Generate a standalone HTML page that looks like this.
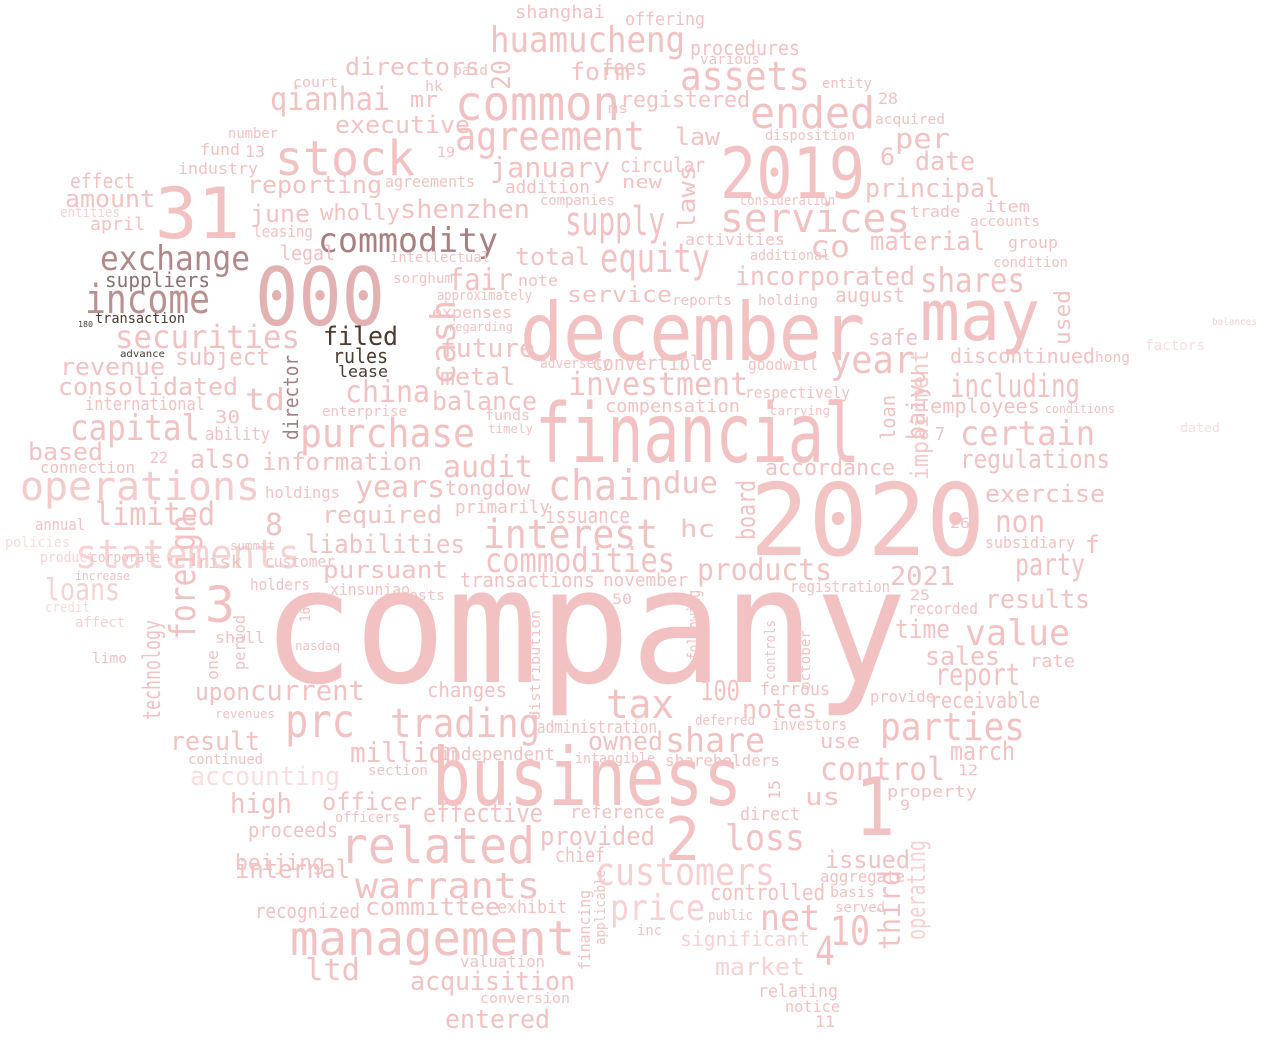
<!DOCTYPE html>
<html><head><meta charset="utf-8"><title>Word cloud</title>
<style>
html,body{margin:0;padding:0;background:#fff;}
svg{display:block;}
text{font-family:"DejaVu Sans Mono","Liberation Mono",monospace;}
</style></head>
<body>
<svg id="cloud" width="1280" height="1042" viewBox="0 0 1280 1042" xmlns="http://www.w3.org/2000/svg">
<rect width="1280" height="1042" fill="#fff"/>
</svg>
<script>
// [word, x, baselineY, fontSize, color, rotation, width]
const words = [
["company",262,682,160,"#f2c2c2",0,645],
["2020",750,555,100,"#f2c4c4",0,235],
["financial",535,462,82,"#f2c2c2",0,325],
["december",520,360,80,"#f2c2c2",0,345],
["business",432,805,80,"#f2c2c2",0,310],
["000",255,325,80,"#e2b2b2",0,130],
["31",155,238,70,"#f2c2c2",0,85],
["2019",720,198,70,"#f2c2c2",0,145],
["may",920,340,70,"#f2c2c2",0,120],
["1",855,835,80,"#f2c2c2",0,40],
["2",665,860,60,"#f2c2c2",0,35],
["3",205,622,50,"#f2c2c2",0,30],
["4",815,965,40,"#f2c2c2",0,20],
["10",830,945,40,"#f2c2c2",0,40],
["common",455,120,48,"#f2c2c2",0,165],
["stock",275,175,48,"#f2c2c2",0,140],
["related",340,863,50,"#f2c2c2",0,195],
["management",290,955,48,"#f2c2c2",0,285],
["operations",20,500,40,"#f4caca",0,240],
["statements",75,568,40,"#f6d2d2",0,225],
["agreement",455,150,40,"#f2c2c2",0,190],
["supply",565,235,40,"#f2c2c2",0,100],
["services",720,232,40,"#f2c2c2",0,190],
["equity",600,272,40,"#f2c2c2",0,110],
["ended",750,128,44,"#f2c2c2",0,125],
["assets",680,90,40,"#f2c2c2",0,130],
["huamucheng",490,52,36,"#f2c2c2",0,195],
["purchase",300,447,40,"#f2c2c2",0,175],
["chain",548,500,42,"#f2c2c2",0,115],
["interest",483,548,40,"#f2c2c2",0,175],
["commodities",485,572,34,"#f2c2c2",0,190],
["income",85,313,40,"#b89090",0,125],
["commodity",318,252,34,"#a88080",0,180],
["exchange",100,270,34,"#b08888",0,150],
["securities",115,348,32,"#f2c2c2",0,185],
["capital",70,440,36,"#f2c2c2",0,130],
["customers",595,885,38,"#f6d0d0",0,180],
["warrants",355,898,36,"#f2c2c2",0,185],
["prc",285,737,46,"#f2c2c2",0,70],
["trading",390,737,40,"#f2c2c2",0,150],
["tax",606,718,40,"#f2c2c2",0,68],
["investment",568,395,32,"#f2c2c2",0,180],
["shares",920,292,34,"#f2c2c2",0,105],
["including",950,397,32,"#f2c2c2",0,130],
["certain",960,445,34,"#f2c2c2",0,135],
["year",830,373,38,"#f2c2c2",0,85],
["value",965,645,36,"#f2c2c2",0,105],
["parties",880,740,38,"#f2c2c2",0,145],
["control",820,780,32,"#f2c2c2",0,125],
["loss",725,850,36,"#f2c2c2",0,80],
["net",760,930,36,"#f2c2c2",0,60],
["price",610,920,36,"#f6d2d2",0,95],
["acquisition",410,990,26,"#f2c2c2",0,165],
["entered",445,1028,26,"#f2c2c2",0,105],
["limited",95,525,32,"#f2c2c2",0,120],
["loans",45,600,30,"#f6d2d2",0,75],
["qianhai",270,110,32,"#f2c2c2",0,120],
["directors",345,75,24,"#f2c2c2",0,135],
["executive",335,133,24,"#f2c2c2",0,135],
["january",490,177,28,"#f2c2c2",0,120],
["shenzhen",400,218,26,"#f2c2c2",0,130],
["foreign",195,640,36,"#f2c2c2",-90,125],
["technology",160,720,24,"#f2c2c2",-90,100],
["cash",455,385,34,"#f2c2c2",-90,85],
["director",298,440,20,"#a08080",-90,85],
["third",900,950,30,"#f2c2c2",-90,80],
["operating",925,940,26,"#f6d2d2",-90,100],
["board",755,540,26,"#f2c2c2",-90,60],
["impairment",928,480,24,"#f4caca",-90,130],
["baiyu",925,440,26,"#f2c2c2",-90,70],
["used",1070,345,22,"#f2c2c2",-90,55],
["laws",695,230,24,"#f2c2c2",-90,65],
["million",350,762,28,"#f2c2c2",0,110],
["accounting",190,785,26,"#f8dede",0,150],
["products",697,580,30,"#f2c2c2",0,135],
["audit",443,477,30,"#f2c2c2",0,90],
["years",355,497,30,"#f2c2c2",0,90],
["tongdow",445,495,20,"#f2c2c2",0,85],
["due",663,493,30,"#f2c2c2",0,55],
["china",345,402,30,"#f2c2c2",0,85],
["balance",432,410,26,"#f2c2c2",0,105],
["fair",448,290,30,"#f2c2c2",0,65],
["total",515,265,24,"#f2c2c2",0,75],
["future",440,357,26,"#f2c2c2",0,95],
["metal",440,385,24,"#f2c2c2",0,75],
["information",262,470,24,"#f2c2c2",0,160],
["reporting",247,193,24,"#f2c2c2",0,135],
["june",250,222,24,"#f2c2c2",0,60],
["wholly",320,220,22,"#f2c2c2",0,80],
["revenue",60,375,24,"#f2c2c2",0,105],
["consolidated",58,395,24,"#f2c2c2",0,180],
["amount",65,207,24,"#f2c2c2",0,90],
["effect",70,188,20,"#f2c2c2",0,65],
["april",90,230,18,"#f2c2c2",0,55],
["based",28,460,24,"#f2c2c2",0,75],
["also",190,468,26,"#f2c2c2",0,60],
["td",245,410,30,"#f2c2c2",0,40],
["subject",175,365,24,"#f2c2c2",0,95],
["filed",323,345,26,"#4b3a30",0,75],
["rules",333,363,20,"#4b3a30",0,55],
["lease",338,377,16,"#4b3a30",0,50],
["suppliers",105,287,20,"#8a7070",0,105],
["transaction",95,323,14,"#4b3a30",0,90],
["liabilities",305,553,26,"#f2c2c2",0,160],
["pursuant",323,578,24,"#f2c2c2",0,125],
["required",322,523,24,"#f2c2c2",0,120],
["8",265,535,30,"#f2c2c2",0,18],
["internal",235,878,26,"#f2c2c2",0,115],
["recognized",255,918,20,"#f2c2c2",0,105],
["proceeds",248,837,20,"#f2c2c2",0,90],
["high",230,813,28,"#f2c2c2",0,62],
["officer",322,810,24,"#f2c2c2",0,100],
["committee",365,915,24,"#f2c2c2",0,135],
["ltd",305,980,30,"#f2c2c2",0,55],
["effective",423,822,26,"#f2c2c2",0,120],
["provided",540,845,26,"#f2c2c2",0,115],
["share",665,752,34,"#f2c2c2",0,100],
["shareholders",665,766,16,"#f2c2c2",0,115],
["owned",588,750,26,"#f2c2c2",0,75],
["100",700,700,28,"#f2c2c2",0,40],
["notes",742,718,26,"#f2c2c2",0,75],
["current",250,700,28,"#f2c2c2",0,115],
["upon",195,700,24,"#f2c2c2",0,55],
["result",170,750,26,"#f2c2c2",0,90],
["report",935,685,30,"#f2c2c2",0,85],
["sales",925,665,26,"#f2c2c2",0,75],
["time",895,638,26,"#f2c2c2",0,55],
["results",985,608,26,"#f2c2c2",0,105],
["party",1015,575,30,"#f2c2c2",0,70],
["2021",890,585,26,"#f2c2c2",0,65],
["exercise",985,502,24,"#f2c2c2",0,120],
["regulations",960,468,26,"#f2c2c2",0,150],
["non",995,532,30,"#f2c2c2",0,50],
["march",950,760,26,"#f2c2c2",0,65],
["receivable",930,708,22,"#f2c2c2",0,110],
["issued",825,868,24,"#f2c2c2",0,85],
["incorporated",735,285,26,"#f2c2c2",0,180],
["co",810,257,30,"#f2c2c2",0,40],
["material",870,250,26,"#f2c2c2",0,115],
["principal",865,197,26,"#f2c2c2",0,135],
["date",915,170,26,"#f2c2c2",0,60],
["per",895,148,28,"#f2c2c2",0,55],
["6",880,165,24,"#f2c2c2",0,15],
["law",675,145,24,"#f2c2c2",0,45],
["registered",620,107,22,"#f2c2c2",0,130],
["procedures",690,55,20,"#f2c2c2",0,110],
["form",570,80,24,"#f2c2c2",0,60],
["fees",602,75,22,"#f2c2c2",0,45],
["mr",410,107,22,"#f2c2c2",0,28],
["shanghai",515,18,18,"#f2c2c2",0,90],
["offering",625,25,18,"#f2c2c2",0,80],
["circular",620,172,20,"#f2c2c2",0,85],
["addition",505,193,18,"#f2c2c2",0,85],
["service",567,302,22,"#f2c2c2",0,105],
["convertible",592,370,20,"#f2c2c2",0,120],
["compensation",605,412,18,"#f2c2c2",0,135],
["accordance",765,475,22,"#f2c2c2",0,130],
["discontinued",950,363,20,"#f2c2c2",0,145],
["employees",930,413,20,"#f2c2c2",0,110],
["august",835,302,20,"#f2c2c2",0,70],
["safe",868,345,22,"#f2c2c2",0,50],
["hc",680,537,24,"#f2c2c2",0,35],
["issuance",545,523,22,"#f2c2c2",0,85],
["primarily",455,513,18,"#f2c2c2",0,95],
["transactions",460,587,20,"#f2c2c2",0,135],
["november",603,586,18,"#f2c2c2",0,85],
["changes",427,697,20,"#f2c2c2",0,80],
["independent",440,760,18,"#f2c2c2",0,115],
["administration",537,733,18,"#f2c2c2",0,120],
["market",715,975,24,"#f6d2d2",0,90],
["significant",680,946,20,"#f6d2d2",0,130],
["controlled",710,900,22,"#f2c2c2",0,115],
["chief",555,862,20,"#f2c2c2",0,50],
["reference",570,818,18,"#f2c2c2",0,95],
["valuation",460,967,16,"#f2c2c2",0,85],
["conversion",480,1003,14,"#f2c2c2",0,90],
["exhibit",497,913,18,"#f2c2c2",0,70],
["subsidiary",985,548,16,"#f2c2c2",0,90],
["customer",265,567,16,"#f2c2c2",0,70],
["risk",197,568,18,"#f2c2c2",0,45],
["holdings",265,498,16,"#f2c2c2",0,75],
["ability",205,440,18,"#f2c2c2",0,65],
["legal",280,260,20,"#f2c2c2",0,55],
["international",85,410,18,"#f2c2c2",0,120],
["connection",40,473,16,"#f2c2c2",0,95],
["annual",35,530,16,"#f2c2c2",0,50],
["policies",5,547,14,"#f8dede",0,65],
["30",215,423,18,"#f2c2c2",0,25],
["22",150,463,16,"#f2c2c2",0,18],
["13",245,157,16,"#f2c2c2",0,20],
["fund",200,155,16,"#f2c2c2",0,40],
["industry",178,174,16,"#f2c2c2",0,80],
["leasing",253,237,16,"#f2c2c2",0,60],
["entities",60,217,14,"#f6d2d2",0,60],
["28",878,104,16,"#f2c2c2",0,20],
["holders",250,590,16,"#f2c2c2",0,60],
["xinsuniao",330,595,16,"#f2c2c2",0,80],
["costs",400,600,14,"#f2c2c2",0,45],
["registration",790,592,16,"#f2c2c2",0,100],
["recorded",908,614,16,"#f2c2c2",0,70],
["rate",1030,667,18,"#f2c2c2",0,45],
["provide",870,702,16,"#f2c2c2",0,65],
["investors",772,730,16,"#f2c2c2",0,75],
["use",820,748,20,"#f2c2c2",0,40],
["us",805,805,24,"#f2c2c2",0,35],
["property",887,797,16,"#f2c2c2",0,90],
["direct",740,820,18,"#f2c2c2",0,60],
["aggregate",820,882,16,"#f2c2c2",0,85],
["basis",830,897,14,"#f2c2c2",0,45],
["served",835,912,14,"#f2c2c2",0,50],
["relating",758,997,18,"#f2c2c2",0,80],
["notice",785,1012,16,"#f2c2c2",0,55],
["11",815,1027,16,"#f2c2c2",0,20],
["accounts",970,226,14,"#f2c2c2",0,70],
["item",985,212,16,"#f2c2c2",0,45],
["group",1008,248,16,"#f2c2c2",0,50],
["condition",993,267,14,"#f2c2c2",0,75],
["trade",910,217,16,"#f2c2c2",0,50],
["hong",1095,362,14,"#f2c2c2",0,35],
["factors",1145,350,14,"#f8dede",0,60],
["balances",1212,325,10,"#f4d2d2",0,45],
["dated",1180,432,12,"#f8dede",0,40],
["conditions",1045,413,12,"#f2c2c2",0,70],
["loan",895,440,20,"#f2c2c2",-90,45],
["goodwill",748,370,16,"#f2c2c2",0,70],
["respectively",745,398,16,"#f2c2c2",0,105],
["carrying",770,415,12,"#f2c2c2",0,60],
["holding",758,305,14,"#f2c2c2",0,60],
["additional",750,260,14,"#f2c2c2",0,80],
["activities",685,245,16,"#f2c2c2",0,100],
["reports",672,305,14,"#f2c2c2",0,60],
["note",518,286,16,"#f2c2c2",0,40],
["expenses",432,318,16,"#f2c2c2",0,80],
["approximately",437,300,14,"#f2c2c2",0,95],
["sorghum",393,283,14,"#f2c2c2",0,60],
["intellectual",390,262,14,"#f2c2c2",0,100],
["regarding",448,331,12,"#f2c2c2",0,65],
["advance",120,357,10,"#4b3a30",0,45],
["180",78,327,8,"#4b3a30",0,15],
["enterprise",322,416,14,"#f2c2c2",0,85],
["adversely",540,368,14,"#f2c2c2",0,70],
["funds",485,420,14,"#f2c2c2",0,45],
["timely",488,433,12,"#f2c2c2",0,45],
["summit",230,550,12,"#f2c2c2",0,45],
["corporate",90,562,14,"#f2c2c2",0,70],
["product",40,562,14,"#f6d2d2",0,55],
["increase",75,580,12,"#f2c2c2",0,55],
["credit",45,612,14,"#f8dede",0,45],
["affect",75,627,14,"#f6d2d2",0,50],
["limo",92,663,14,"#f2c2c2",0,35],
["shall",215,643,16,"#f2c2c2",0,50],
["one",218,680,16,"#f2c2c2",-90,30],
["period",245,670,16,"#f2c2c2",-90,55],
["nasdaq",295,650,12,"#f2c2c2",0,45],
["16",310,622,14,"#f2c2c2",-90,15],
["revenues",215,718,12,"#f2c2c2",0,60],
["continued",188,764,14,"#f2c2c2",0,75],
["section",368,775,14,"#f2c2c2",0,60],
["intangible",575,763,14,"#f2c2c2",0,80],
["deferred",695,725,14,"#f2c2c2",0,60],
["following",700,660,18,"#f2c2c2",-90,70],
["controls",775,680,14,"#f2c2c2",-90,60],
["october",810,690,14,"#f2c2c2",-90,60],
["ferrous",760,695,18,"#f2c2c2",0,70],
["distribution",540,720,14,"#f2c2c2",-90,110],
["officers",335,822,14,"#f2c2c2",0,65],
["beijing",235,870,22,"#f2c2c2",0,90],
["financing",590,970,16,"#f2c2c2",-90,80],
["applicable",605,945,14,"#f2c2c2",-90,75],
["inc",637,935,14,"#f2c2c2",0,25],
["public",708,920,14,"#f2c2c2",0,45],
["15",780,800,16,"#f2c2c2",-90,20],
["12",958,775,14,"#f2c2c2",0,20],
["9",900,810,14,"#f2c2c2",0,10],
["50",612,604,14,"#f2c2c2",0,20],
["25",910,600,14,"#f2c2c2",0,20],
["f",1085,553,24,"#f2c2c2",0,15],
["7",935,440,18,"#f2c2c2",0,10],
["26",950,528,14,"#f2c2c2",0,20],
["20",510,90,26,"#f2c2c2",-90,30],
["19",437,157,14,"#f2c2c2",0,18],
["agreements",385,187,16,"#f2c2c2",0,90],
["companies",540,205,14,"#f2c2c2",0,75],
["new",622,188,18,"#f2c2c2",0,40],
["consideration",740,205,14,"#f2c2c2",0,95],
["disposition",765,140,14,"#f2c2c2",0,90],
["acquired",875,124,14,"#f2c2c2",0,70],
["entity",822,88,14,"#f2c2c2",0,50],
["various",700,64,14,"#f2c2c2",0,60],
["court",293,87,14,"#f2c2c2",0,45],
["hk",425,91,14,"#f2c2c2",0,18],
["paid",453,75,14,"#f2c2c2",0,35],
["ms",608,113,14,"#f2c2c2",0,20],
["number",228,138,14,"#f2c2c2",0,50]
];
const svg = document.getElementById('cloud');
const NS = 'http://www.w3.org/2000/svg';
for (const [w, x, y, s, c, r, wd] of words) {
  const el = document.createElementNS(NS, 'text');
  
  
  el.setAttribute('x', x);
  el.setAttribute('y', y);
  el.setAttribute('font-size', s);
  el.setAttribute('fill', c);
  const width = wd > 0 ? wd : Math.round(0.5 * s * w.length);
  el.setAttribute('textLength', width);
  el.setAttribute('lengthAdjust', 'spacingAndGlyphs');
  if (r) el.setAttribute('transform', 'rotate(' + r + ' ' + x + ' ' + y + ')');
  el.textContent = w;
  svg.appendChild(el);
}
</script>
</body></html>
